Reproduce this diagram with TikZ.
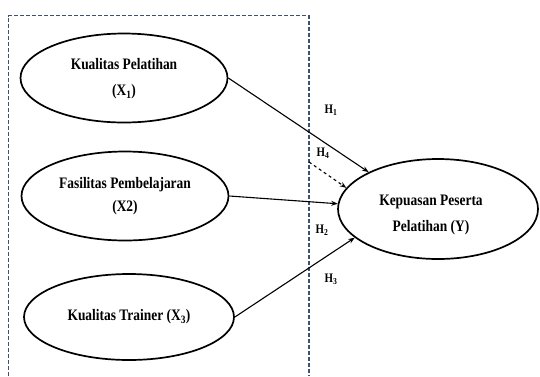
\documentclass[tikz,border=0pt]{standalone}
\usepackage{fontspec}
\setmainfont{Liberation Serif}[FakeStretch=0.84]
\usetikzlibrary{shapes.geometric,arrows.meta}
\definecolor{boxcol}{HTML}{3E5270}
\begin{document}
\begin{tikzpicture}[x=1pt,y=-1pt,
  var/.style={draw, ellipse, line width=1.7pt, minimum width=207pt, minimum height=89pt,
    inner sep=0pt, align=center, font=\fontsize{16}{26}\selectfont\bfseries},
  txt/.style={inner sep=0pt, align=center, font=\fontsize{16}{26}\selectfont\bfseries},
  link/.style={-{Stealth[length=6.5pt,width=5pt]}, line width=1.1pt},
  hlab/.style={font=\fontsize{13}{14}\selectfont\bfseries, inner sep=0pt}]
\useasboundingbox (0,0) rectangle (540,376);
\draw[color=boxcol, line width=1.1pt, dash pattern=on 4pt off 2pt]
  (8.6,376) -- (8.6,15.5) -- (309,15.5) -- (309,376);
\node[var] (X1) at (124,78) {};
\node[txt] (t1) at (124,79) {Kualitas Pelatihan\\(X\textsubscript{1})};
\node[var] (X2) at (125,196) {};
\node[txt, font=\fontsize{16}{23}\selectfont\bfseries] (t2) at (125,196) {Fasilitas Pembelajaran\\(X2)};
\node[var, minimum height=86pt, minimum width=210pt] (X3) at (129,317) {Kualitas Trainer (X\textsubscript{3})};
\node[var, minimum width=200pt, minimum height=100pt] (Y) at (438,209) {};
\node[txt] (tY) at (431,215) {Kepuasan Peserta\\Pelatihan (Y)};
\coordinate (H4s) at (309,162);
\draw[link] (X1.east) -- (Y.152);
\draw[link, dashed] (H4s) -- (Y.167);
\draw[link] (X2.east) -- (Y.177);
\draw[link] (X3.east) -- (Y.199);
\node[hlab] (h1) at (331,110) {H\textsubscript{1}};
\node[hlab] (h4) at (323,153) {H\textsubscript{4}};
\node[hlab] (h2) at (322,230) {H\textsubscript{2}};
\node[hlab] (h3) at (331,279) {H\textsubscript{3}};
\end{tikzpicture}
\end{document}
